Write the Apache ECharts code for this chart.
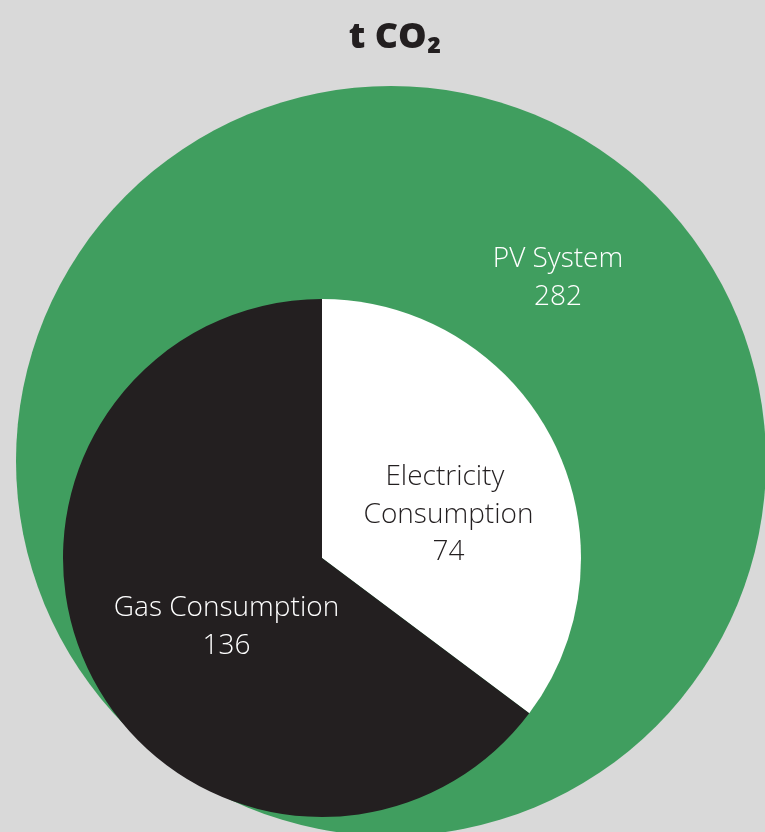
<!DOCTYPE html>
<html>
<head>
<meta charset="utf-8">
<script src="https://cdn.jsdelivr.net/npm/echarts@6/dist/echarts.min.js"></script>
<style>
html,body{margin:0;padding:0;background:#d9d9d9;}
#chart{width:765px;height:832px;}
</style>
</head>
<body>
<div id="chart"></div>
<script>
const titleText = 't CO₂';
const outerCategories = ['PV System'];
const outerValues = [282];
const innerCategories = ['Electricity Consumption', 'Gas Consumption'];
const innerValues = [74, 136];

const FONT = '"Open Sans", "DejaVu Sans", sans-serif';
const chart = echarts.init(document.getElementById('chart'), null, {renderer: 'canvas'});

const labelBase = {
  show: true,
  fontFamily: FONT,
  fontWeight: 300,
  fontSize: 28,
  lineHeight: 37.5,
  align: 'center',
  formatter: p => p.name + '\n' + p.value
};

chart.setOption({
  backgroundColor: '#d9d9d9',
  animation: false,
  title: {
    text: titleText,
    left: 390,
    top: 15,
    textAlign: 'center',
    textStyle: {fontFamily: FONT, fontWeight: 800, fontSize: 36, color: '#231f20'}
  },
  series: [
    {
      type: 'pie',
      silent: true,
      center: [391, 461],
      radius: [0, 375],
      startAngle: 90,
      labelLine: {show: false},
      label: Object.assign({}, labelBase, {position: 'center', color: '#ffffff', offset: [167, -183]}),
      data: outerCategories.map((n, i) => ({name: n, value: outerValues[i], itemStyle: {color: '#409e5f'}}))
    },
    {
      type: 'pie',
      silent: true,
      center: [322, 558],
      radius: [0, 259],
      startAngle: 90,
      clockwise: true,
      labelLine: {show: false},
      label: Object.assign({}, labelBase, {position: 'inside'}),
      data: innerCategories.map((n, i) => ({
        name: n,
        value: innerValues[i],
        itemStyle: {color: i === 0 ? '#ffffff' : '#231f20'},
        label: i === 0
          ? {color: '#231f20', offset: [8, 16], width: 210, overflow: 'break'}
          : {color: '#ffffff', offset: [23, 10]}
      }))
    }
  ]
});
</script>
</body>
</html>
